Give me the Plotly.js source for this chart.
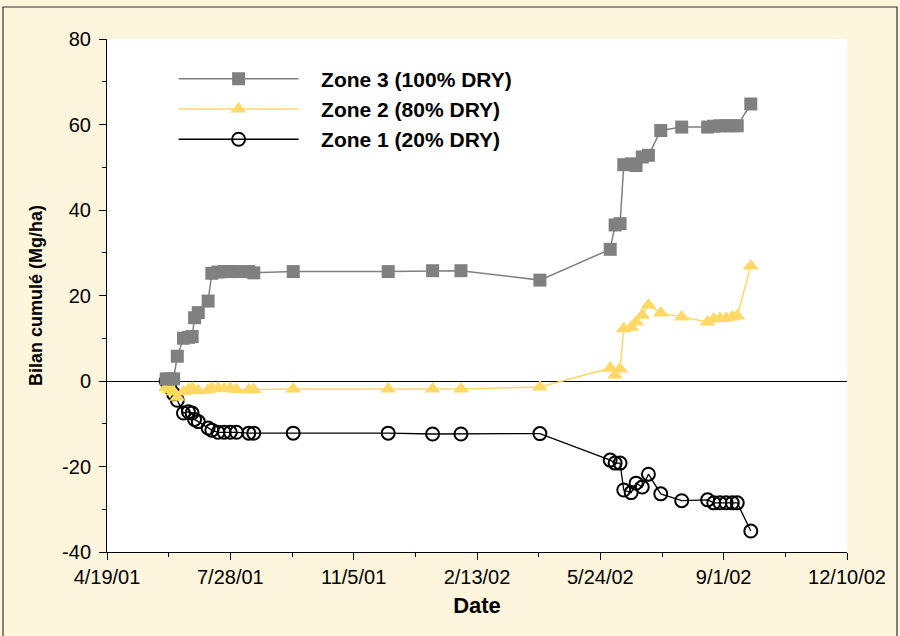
<!DOCTYPE html>
<html>
<head>
<meta charset="utf-8">
<script src="https://cdn.plot.ly/plotly-3.0.1.min.js"></script>
<style>html,body{margin:0;padding:0;background:#fff;}#chart{width:900px;height:636px;}</style>
</head>
<body>
<div id="chart"></div>
<script>
// Sampling dates (shared by the three zones)
const dates = [
  '2001-06-06','2001-06-09','2001-06-12','2001-06-15','2001-06-20','2001-06-24','2001-06-27','2001-06-29',
  '2001-07-02','2001-07-10','2001-07-13','2001-07-18','2001-07-23','2001-07-28','2001-08-02','2001-08-12',
  '2001-08-16','2001-09-17','2001-12-03','2002-01-08','2002-01-31','2002-04-05','2002-06-01','2002-06-05',
  '2002-06-09','2002-06-12','2002-06-18','2002-06-22','2002-06-27','2002-07-02','2002-07-12','2002-07-29',
  '2002-08-19','2002-08-24','2002-08-29','2002-09-03','2002-09-08','2002-09-12','2002-09-23'
];
const zone3 = [0.5,0.5,0.5,5.8,10,10.2,10.4,14.8,16,18.7,25.2,25.5,25.6,25.6,25.6,25.6,25.3,25.6,25.6,25.8,25.8,23.6,
  30.8,36.5,36.8,50.6,50.8,50.4,52.4,52.8,58.6,59.4,59.4,59.6,59.7,59.7,59.7,59.7,64.8];
const zone2 = [-1.5,-2,-2.5,-3.8,-2.5,-2,-1.7,-2.2,-2.3,-2.1,-1.7,-1.7,-1.8,-1.7,-2,-2.1,-2,-1.9,-1.9,-1.9,-1.9,-1.4,
  3.0,1.4,2.8,12.2,12.6,13.8,15.4,17.8,15.9,15.0,13.8,14.5,14.6,14.7,15.0,15.2,26.9];
const zone1 = [0,-1.5,-3,-4.5,-7.5,-7.2,-7.5,-9,-9.5,-11,-11.5,-12,-12,-12,-12,-12.2,-12.2,-12.2,-12.2,-12.4,-12.4,-12.3,
  -18.5,-19.2,-19.2,-25.5,-26.1,-23.9,-24.8,-21.8,-26.4,-28.0,-27.8,-28.5,-28.5,-28.5,-28.5,-28.5,-35.1];
const seriesNames = ['Zone 1 (20% DRY)','Zone 2 (80% DRY)','Zone 3 (100% DRY)'];
const xTickVals = ['2001-04-19','2001-07-28','2001-11-05','2002-02-13','2002-05-24','2002-09-01','2002-12-10'];
const xTickText = ['4/19/01','7/28/01','11/5/01','2/13/02','5/24/02','9/1/02','12/10/02'];
const yTickVals = [-40,-20,0,20,40,60,80];
const yTickText = ['-40','-20','0','20','40','60','80'];

const pad = '\u00A0\u00A0\u00A0';
const traces = [
  {x: dates, y: zone1, name: pad + seriesNames[0], type: 'scatter', mode: 'lines+markers',
   line: {color: '#000000', width: 1.3},
   marker: {symbol: 'circle-open', size: 13, color: '#000000', line: {color: '#000000', width: 2}}},
  {x: dates, y: zone2, name: pad + seriesNames[1], type: 'scatter', mode: 'lines+markers',
   line: {color: '#FFD966', width: 1.5},
   marker: {symbol: 'triangle-up', size: 14, color: '#FFD966'}},
  {x: dates, y: zone3, name: pad + seriesNames[2], type: 'scatter', mode: 'lines+markers',
   line: {color: '#808080', width: 1.5},
   marker: {symbol: 'square', size: 13, color: '#808080'}}
];

const L = 107, R = 53, T = 39, B = 84, W = 900, H = 636;
const pw = W - L - R, ph = H - T - B;
const font = 'Liberation Sans, Arial, sans-serif';
const layout = {
  width: W, height: H,
  margin: {l: L, r: R, t: T, b: B},
  paper_bgcolor: '#FDF5DC',
  plot_bgcolor: '#FFFFFF',
  font: {family: font, color: '#000000', size: 20},
  showlegend: true,
  legend: {x: 0.09, y: 0.962, xanchor: 'left', yanchor: 'top', bgcolor: 'rgba(0,0,0,0)',
           traceorder: 'reversed', itemwidth: 120, tracegroupgap: 0,
           font: {family: font, size: 21, color: '#000000', weight: 'bold'}},
  xaxis: {type: 'date', range: ['2001-04-19', '2002-12-10'],
          tickmode: 'array', tickvals: xTickVals, ticktext: xTickText,
          showgrid: false, zeroline: false, showline: true, linecolor: '#000000', linewidth: 1,
          ticks: 'outside', ticklen: 7, tickcolor: '#000000',
          minor: {ticks: 'outside', ticklen: 4, tickcolor: '#000000', tick0: '2001-04-19', dtick: 50 * 86400000, showgrid: false},
          title: {text: '<b>Date</b>', font: {size: 22}, standoff: 10},
          tickfont: {size: 20}},
  yaxis: {range: [-40, 80], tickmode: 'array', tickvals: yTickVals, ticktext: yTickText,
          showgrid: false, zeroline: true, zerolinecolor: '#000000', zerolinewidth: 1,
          showline: true, linecolor: '#000000', linewidth: 1,
          ticks: 'outside', ticklen: 7, tickcolor: '#000000', ticklabelstandoff: 4,
          minor: {ticks: 'outside', ticklen: 4, tickcolor: '#000000', tick0: 0, dtick: 10, showgrid: false},
          title: {text: '<b>Bilan cumulé (Mg/ha)</b>', font: {size: 18}, standoff: 14},
          tickfont: {size: 20}},
  shapes: [{type: 'rect', xref: 'paper', yref: 'paper', layer: 'above',
            x0: (3 - L) / pw, x1: (897 - L) / pw, y0: -(H + 10 - (T + ph)) / ph, y1: 1 + (T - 7) / ph,
            line: {color: '#333333', width: 1.2}, fillcolor: 'rgba(0,0,0,0)'}]
};

Plotly.newPlot('chart', traces, layout, {displayModeBar: false, staticPlot: true});
</script>
</body>
</html>
